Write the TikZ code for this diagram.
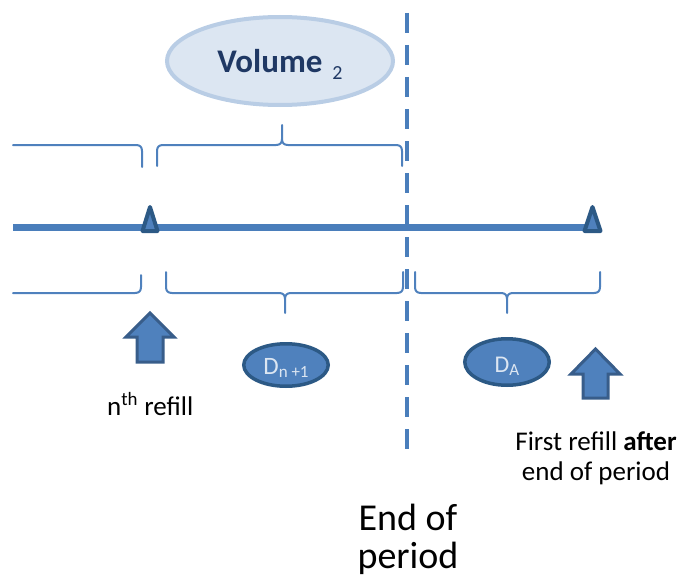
\documentclass[tikz,border=0pt]{standalone}
\usepackage{fontspec}
\setmainfont{Carlito}
\usetikzlibrary{shapes.geometric}
\definecolor{tl}{HTML}{4A7EBB}
\definecolor{br}{HTML}{4F81BD}
\definecolor{dk}{HTML}{2C5985}
\definecolor{ar}{HTML}{385D8A}
\definecolor{lt}{HTML}{DCE6F2}
\definecolor{lb}{HTML}{B9CDE5}
\definecolor{navy}{HTML}{1F3864}
\tikzset{
  bracepath/.style={draw=br, line width=2pt, line join=round, line cap=round},
  timeline/.style={draw=tl, line width=7pt},
  marker/.style={draw=dk, fill=br, line width=4pt, line join=round},
  uparrow/.style={draw=ar, fill=br, line width=3pt, line join=miter},
  dashline/.style={draw=tl, line width=4.5pt, dash pattern=on 20pt off 12pt},
  volell/.style={ellipse, draw=lb, fill=lt, line width=4pt, minimum width=226pt, minimum height=88pt, inner sep=0pt},
  dell/.style={ellipse, draw=dk, fill=br, line width=3.5pt, inner sep=0pt},
  smalltext/.style={font=\fontsize{27}{30}\selectfont, text=black, inner sep=0pt},
  bigtext/.style={font=\fontsize{38}{38}\selectfont, text=black, inner sep=0pt, align=center},
}
% #1 x1, #2 x2, #3 xm, #4 y, #5 d (+1 ends down / tip up, -1 ends up / tip down)
\newcommand{\tlbrace}[5]{%
  \draw[bracepath] ({#1},{#4+21*#5}) -- ({#1},{#4+6*#5})
    .. controls ({#1},{#4+2*#5}) and ({#1+2},{#4}) .. ({#1+6},{#4})
    -- ({#3-6},{#4})
    .. controls ({#3-2},{#4}) and ({#3},{#4-2*#5}) .. ({#3},{#4-6*#5})
    -- ({#3},{#4-20*#5}) -- ({#3},{#4-6*#5})
    .. controls ({#3},{#4-2*#5}) and ({#3+2},{#4}) .. ({#3+6},{#4})
    -- ({#2-6},{#4})
    .. controls ({#2-2},{#4}) and ({#2},{#4+2*#5}) .. ({#2},{#4+6*#5})
    -- ({#2},{#4+21*#5});}
\begin{document}
\begin{tikzpicture}[x=1pt,y=-1pt]
\useasboundingbox (0,0) rectangle (684,583);

% Volume ellipse
\node[volell] (vol) at (280,61) {};
\node[anchor=base, inner sep=0pt, text=navy] (voltext) at (280,73)
  {\fontsize{33}{33}\selectfont\bfseries Volume\hspace{10pt}\raisebox{-7pt}{\fontsize{20}{20}\selectfont\mdseries 2}};

% upper braces
\draw[bracepath] (13,145) -- (136,145) .. controls (140,145) and (142,147) .. (142,151) -- (142,167);
\tlbrace{157}{402}{282}{145}{1}

% lower braces
\draw[bracepath] (13,293) -- (135,293) .. controls (139,293) and (141,291) .. (141,287) -- (141,275);
\tlbrace{166}{403}{285}{293}{-1}
\tlbrace{415}{600}{507}{293}{-1}

% timeline
\draw[timeline] (13,227) -- (592,227);
\draw[marker] (150,207) -- (157.5,231) -- (142.5,231) -- cycle;
\draw[marker] (592.5,207) -- (600.5,231) -- (584.5,231) -- cycle;

% dashed end-of-period line
\draw[dashline] (407,13) -- (407,455);

% refill arrows
\draw[uparrow] (150,313) -- (174,337) -- (163,337) -- (163,362) -- (137,362) -- (137,337) -- (126,337) -- cycle;
\draw[uparrow] (595.5,349) -- (620,374) -- (608,374) -- (608,398) -- (583,398) -- (583,374) -- (571,374) -- cycle;

% D ellipses
\node[dell, minimum width=84.5pt, minimum height=42.5pt] (dn) at (286,365) {};
\node[anchor=base, inner sep=0pt, text=lt] (dntext) at (286,374)
  {\fontsize{25}{25}\selectfont D\raisebox{-3pt}{\fontsize{17}{17}\selectfont n +1}};
\node[dell, minimum width=84.5pt, minimum height=46.5pt] (da) at (507,362) {};
\node[anchor=base, inner sep=0pt, text=lt] (datext) at (507,372)
  {\fontsize{24}{24}\selectfont D\raisebox{-3pt}{\fontsize{17}{17}\selectfont A}};

% labels
\node[smalltext, anchor=base west] (nref) at (107,415) {n\textsuperscript{th} refill};
\node[smalltext, anchor=base, align=center] (fref) at (596,480)
  {First refill \textbf{after}\\end of period};
\node[bigtext, anchor=base] (eop) at (408,568) {End of\\period};
\end{tikzpicture}
\end{document}
